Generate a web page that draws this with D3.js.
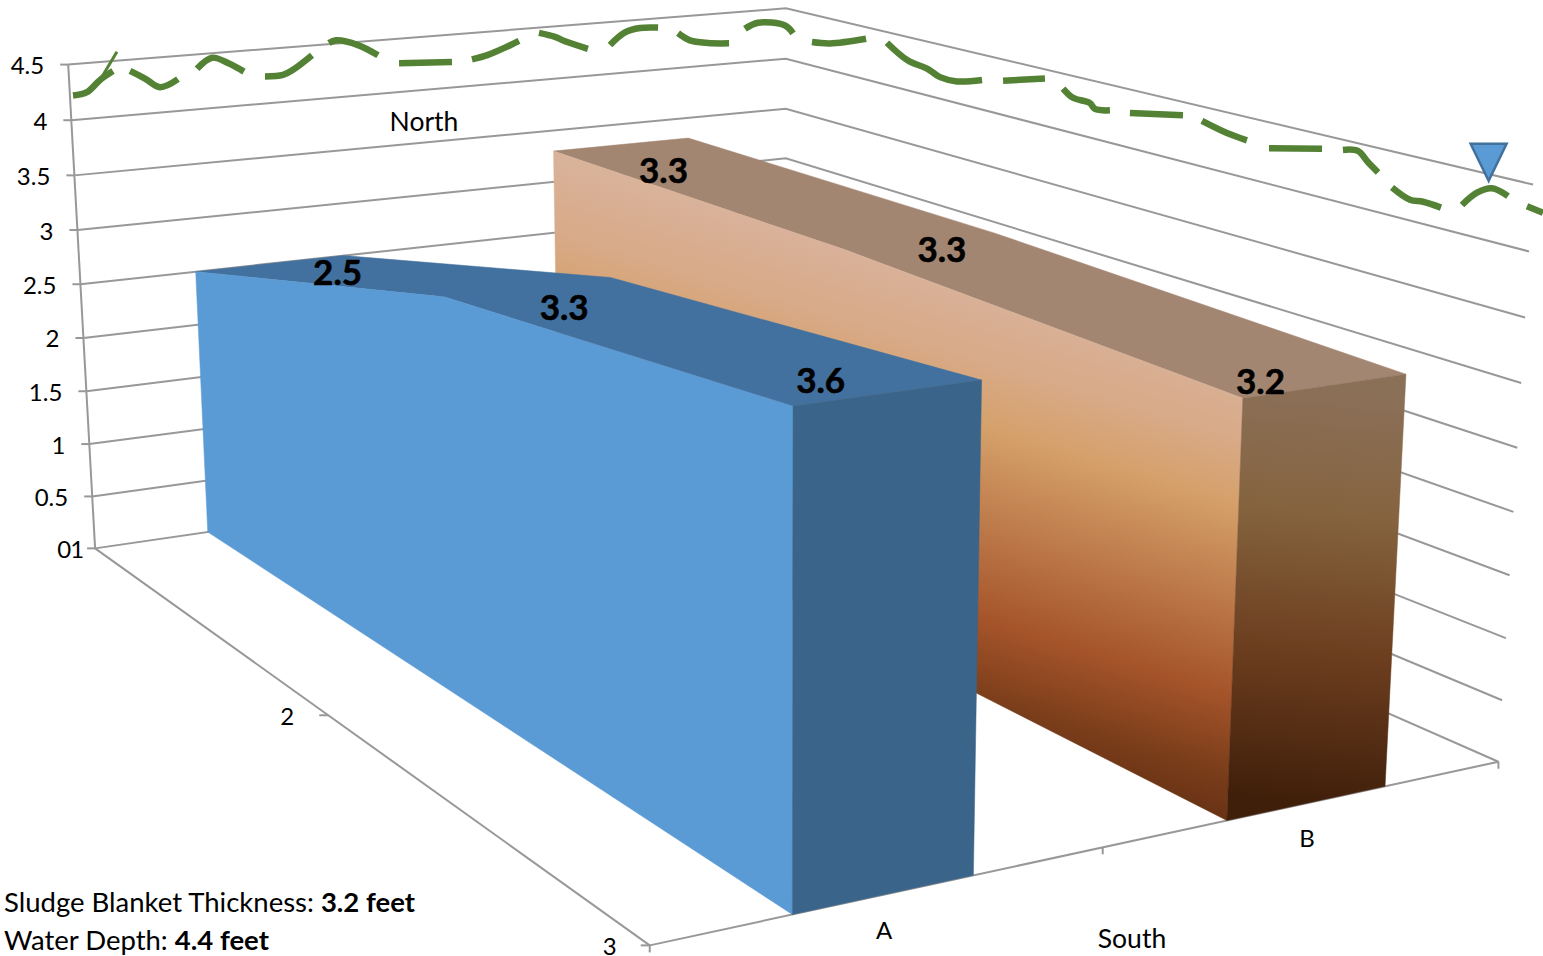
<html>

<head>
    <meta charset="utf-8">
    <title>Sludge blanket</title>
    <style>
        body { margin: 0; background: white; }
        text { font-family: Lato, "Open Sans", sans-serif; fill: black; }
    </style>
</head>

<body>
    <script src="https://cdn.jsdelivr.net/npm/d3@7"></script>
    <script>
        var width = 1543, height = 956;

        var categories = ["A", "B"];
        var depths = [1, 2, 3];
        var seriesA = [2.5, 3.3, 3.6];
        var seriesB = [3.3, 3.3, 3.2];
        var valueTicks = [0, 0.5, 1, 1.5, 2, 2.5, 3, 3.5, 4, 4.5];
        var sludgeThickness = 3.2;
        var waterDepth = 4.4;

        // water line, null = gap between dashes. station is % along the two walls
        var waterStation = [0, 0.95, 1.84, 2.72, null, 3.88, 4.9, 5.92, 7.14, null, 8.44, 9.46, 10.54, 11.63, null,
            13.06, 14.29, 14.97, 16.26, null, 17.41, 17.89, 19.39, 20.75, null, 22.18, 25.78, null,
            27.14, 28.23, 29.46, 30.34, null, 31.7, 32.79, 33.47, 35.03, null, 36.53, 37.55, 38.57, 39.8, null,
            41.16, 41.97, 43.2, 44.63, null, 45.71, 46.6, 48.44, 48.98, null, 50.27, 51.5, 53.95, null,
            55.37, 56.8, 58.1, 58.98, 60.14, 61.84, null, 63.27, 66.12, null, 67.35, 68.03, 69.18, 69.52, 70.54, null,
            71.9, 75.51, null, 76.8, 78.5, 79.86, null, 81.36, 84.97, null, 86.39, 87.41, 88.1, 88.78, null,
            89.73, 90.95, 91.84, 93.06, null, 94.49, 95.51, 96.53, 97.62, null, 98.91, 100];
        var waterFeet = [4.22, 4.24, 4.34, 4.41, null, 4.40, 4.32, 4.23, 4.29, null, 4.37, 4.46, 4.40, 4.31, null,
            4.25, 4.25, 4.29, 4.41, null, 4.51, 4.53, 4.47, 4.36, null, 4.27, 4.24, null,
            4.25, 4.28, 4.34, 4.39, null, 4.45, 4.40, 4.35, 4.26, null, 4.28, 4.39, 4.42, 4.41, null,
            4.34, 4.26, 4.22, 4.20, null, 4.33, 4.38, 4.33, 4.27, null, 4.23, 4.26, 4.39, null,
            4.40, 4.28, 4.25, 4.20, 4.20, 4.27, null, 4.31, 4.42, null, 4.37, 4.31, 4.30, 4.26, 4.28, null,
            4.30, 4.39, null, 4.38, 4.33, 4.31, null, 4.29, 4.39, null, 4.42, 4.44, 4.37, 4.31, null,
            4.22, 4.16, 4.17, 4.16, null, 4.22, 4.34, 4.40, 4.37, null, 4.33, 4.31];
        var tailStation = [1.84, 2.99];
        var tailFeet = [4.34, 4.58];
        var markerStation = 96.3;
        var markerFeet = 4.45;

        // camera calibration: box corners [u, v, w] -> picture
        var cameraFit = [
            [0, 0, 0, 95, 548], [0, 0, 1, 68, 65], [1, 0, 1, 786, 9], [0, 1, 0, 650, 945],
            [1, 1, 0, 1498, 762], [1, 1, 1, 1533, 184], [0.5, 1, 0, 1103, 848], [1, 0, 8 / 9, 786, 58]
        ];

        // least squares for the 11 projection terms
        function solveCamera(fit) {
            var rows = [];
            fit.forEach(function (f) {
                rows.push([f[0], f[1], f[2], 1, 0, 0, 0, 0, -f[3] * f[0], -f[3] * f[1], -f[3] * f[2], f[3]]);
                rows.push([0, 0, 0, 0, f[0], f[1], f[2], 1, -f[4] * f[0], -f[4] * f[1], -f[4] * f[2], f[4]]);
            });
            var n = 11, m = [];
            for (var i = 0; i < n; i++) {
                m[i] = [];
                for (var j = 0; j <= n; j++) m[i][j] = d3.sum(rows, function (r) { return r[i] * r[j]; });
            }
            for (var c = 0; c < n; c++) {
                var best = c;
                for (var r = c + 1; r < n; r++) if (Math.abs(m[r][c]) > Math.abs(m[best][c])) best = r;
                var t = m[c]; m[c] = m[best]; m[best] = t;
                for (var r2 = 0; r2 < n; r2++) {
                    if (r2 == c) continue;
                    var k = m[r2][c] / m[c][c];
                    for (var j2 = c; j2 <= n; j2++) m[r2][j2] -= k * m[c][j2];
                }
            }
            return m.map(function (row, i) { return row[n] / row[i]; });
        }
        var cam = solveCamera(cameraFit);

        function project(u, v, w) {
            var d = cam[8] * u + cam[9] * v + cam[10] * w + 1;
            return [(cam[0] * u + cam[1] * v + cam[2] * w + cam[3]) / d,
                    (cam[4] * u + cam[5] * v + cam[6] * w + cam[7]) / d];
        }

        var xBand = d3.scaleBand().domain(categories).range([0, 1]).paddingInner(0.6).paddingOuter(0.3);
        var depthScale = d3.scalePoint().domain(depths).range([0, 1]);
        var valueScale = d3.scaleLinear().domain([0, 4.5]).range([0, 1]);
        var stationScale = d3.scaleLinear().domain([0, 100]).range([73, 1543]);

        var svg = d3.select("body").append("svg")
            .attr("width", width)
            .attr("height", height);

        // gradients of the orange series
        var defs = svg.append("defs");
        function gradient(id, x1, y1, x2, y2, stops) {
            var g = defs.append("linearGradient").attr("id", id)
                .attr("gradientUnits", "userSpaceOnUse")
                .attr("x1", x1).attr("y1", y1).attr("x2", x2).attr("y2", y2);
            stops.forEach(function (s) {
                g.append("stop").attr("offset", s[0]).attr("stop-color", s[1]);
            });
        }
        gradient("orangeSide", 1010, 130, 827, 740, [
            [0, "#dcb6a2"], [0.25, "#d9b29a"], [0.36, "#d8aa88"], [0.46, "#d5a06a"],
            [0.75, "#a5542a"], [0.87, "#7a3d1a"], [1, "#5a2a10"]
        ]);
        gradient("orangeFront", 1330, 390, 1290, 800, [
            [0, "#8b7058"], [0.3, "#85633f"], [0.65, "#6b3d1e"], [1, "#401f0a"]
        ]);

        var grid = svg.append("g").attr("fill", "none").attr("stroke", "#989898").attr("stroke-width", 2);
        function seg(a, b) {
            grid.append("line").attr("x1", a[0]).attr("y1", a[1]).attr("x2", b[0]).attr("y2", b[1]);
        }

        // walls
        valueTicks.forEach(function (t) {
            var w = valueScale(t);
            var left = project(0, 0, w);
            var path = d3.line()([left, project(1, 0, w), project(1, 1, w)]);
            grid.append("path").attr("d", path);
            seg([left[0] - 8, left[1]], left);
            svg.append("text")
                .attr("x", left[0] - 24)
                .attr("y", left[1] + 9.5)
                .attr("text-anchor", "end")
                .attr("font-size", 24)
                .text(t);
        });
        // floor and vertical axis
        seg(project(0, 0, 0), project(0, 0, 1));
        seg(project(0, 0, 0), project(0, 1, 0));
        seg(project(0, 1, 0), project(1, 1, 0));

        // depth ticks
        var depthDx = [-2, -25, -24];
        depths.forEach(function (d, i) {
            var p = project(0, depthScale(d), 0);
            if (i > 0) seg([p[0] - 9, p[1]], p);
            svg.append("text")
                .attr("x", p[0] - 9 + depthDx[i])
                .attr("y", p[1] + 9.5)
                .attr("text-anchor", "end")
                .attr("font-size", 24)
                .text(d);
        });

        // category ticks
        [0, 0.5, 1].forEach(function (u) {
            var p = project(u, 1, 0);
            seg(p, [p[0], p[1] + 7]);
        });
        categories.forEach(function (c) {
            var p = project(xBand(c) + xBand.bandwidth() / 2, 1, 0);
            svg.append("text")
                .attr("x", p[0])
                .attr("y", p[1] + 44)
                .attr("text-anchor", "middle")
                .attr("font-size", 24)
                .text(c);
        });

        // water line on the walls
        function wallPoint(station, feet) {
            var x = stationScale(station), w = valueScale(feet);
            var corner = project(1, 0, w);
            var a = x < corner[0] ? project(0, 0, w) : corner;
            var b = x < corner[0] ? corner : project(1, 1, w);
            return [x, a[1] + (x - a[0]) * (b[1] - a[1]) / (b[0] - a[0])];
        }
        var waterLine = d3.line()
            .defined(function (d) { return d[0] != null; })
            .x(function (d) { return wallPoint(d[0], d[1])[0]; })
            .y(function (d) { return wallPoint(d[0], d[1])[1]; })
            .curve(d3.curveCatmullRom);
        svg.append("path")
            .attr("d", waterLine(d3.zip(waterStation, waterFeet)))
            .attr("fill", "none")
            .attr("stroke", "#548235")
            .attr("stroke-width", 6.5);
        svg.append("path")
            .attr("d", waterLine(d3.zip(tailStation, tailFeet)))
            .attr("fill", "none")
            .attr("stroke", "#548235")
            .attr("stroke-width", 3);

        // water level marker
        var apex = wallPoint(markerStation, markerFeet);
        svg.append("path")
            .attr("d", d3.line()([apex, [apex[0] - 18, apex[1] - 37], [apex[0] + 18, apex[1] - 37]]) + "Z")
            .attr("fill", "#5b9bd5")
            .attr("stroke", "#41719c")
            .attr("stroke-width", 2.5);

        // series, back one first
        function face(points, fill) {
            svg.append("path")
                .attr("d", d3.line()(points) + "Z")
                .attr("fill", fill)
                .attr("stroke", fill)
                .attr("stroke-width", 0.5);
        }
        function drawSeries(cat, values, topFill, sideFill, frontFill) {
            var u0 = xBand(cat), u1 = u0 + xBand.bandwidth();
            var near = values[values.length - 1];
            var edge0 = values.map(function (d, i) { return project(u0, depthScale(depths[i]), valueScale(d)); });
            var edge1 = values.map(function (d, i) { return project(u1, depthScale(depths[i]), valueScale(d)); });
            face(edge0.concat(edge1.slice().reverse()), topFill);
            face(edge0.concat([project(u0, 1, 0), project(u0, 0, 0)]), sideFill);
            face([project(u0, 1, valueScale(near)), project(u1, 1, valueScale(near)), project(u1, 1, 0), project(u0, 1, 0)], frontFill);
        }
        drawSeries("B", seriesB, "#a38672", "url(#orangeSide)", "url(#orangeFront)");
        drawSeries("A", seriesA, "#43719f", "#5b9bd5", "#3a6489");

        // value labels sit on the top faces
        var labelShift = {
            A: [[67, 9], [36, 21], [-68, -12]],
            B: [[42, 27], [21, 9], [-65, -4]]
        };
        [["A", seriesA], ["B", seriesB]].forEach(function (s) {
            var uc = xBand(s[0]) + xBand.bandwidth() / 2;
            s[1].forEach(function (d, i) {
                var p = project(uc, depthScale(depths[i]), valueScale(d));
                svg.append("text")
                    .attr("x", p[0] + labelShift[s[0]][i][0])
                    .attr("y", p[1] + labelShift[s[0]][i][1] + 12)
                    .attr("text-anchor", "middle")
                    .attr("font-size", 35)
                    .attr("font-weight", 700)
                    .attr("stroke", "black")
                    .attr("stroke-width", 0.6)
                    .text(d);
            });
        });

        // axis titles
        svg.append("text").attr("x", 424).attr("y", 131).attr("text-anchor", "middle").attr("font-size", 26.5).text("North");
        svg.append("text").attr("x", 1132).attr("y", 948).attr("text-anchor", "middle").attr("font-size", 26.5).text("South");

        // readings
        var note1 = svg.append("text").attr("x", 4).attr("y", 912).attr("font-size", 27.5);
        note1.append("tspan").text("Sludge Blanket Thickness: ");
        note1.append("tspan").attr("font-weight", 700).text(sludgeThickness + " feet");
        var note2 = svg.append("text").attr("x", 4).attr("y", 950).attr("font-size", 27.5);
        note2.append("tspan").text("Water Depth: ");
        note2.append("tspan").attr("font-weight", 700).text(waterDepth + " feet");
    </script>
</body>

</html>
